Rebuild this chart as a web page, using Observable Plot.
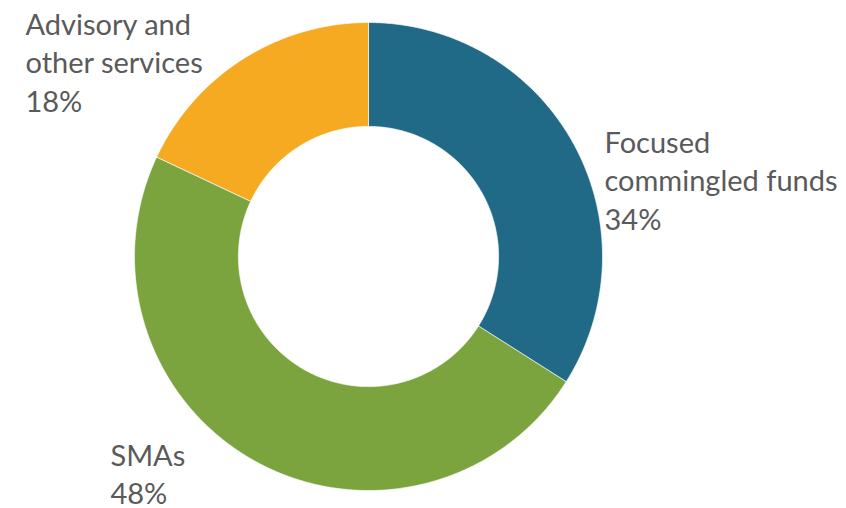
<!DOCTYPE html>
<html>
<head>
<meta charset="utf-8">
<script src="https://cdn.jsdelivr.net/npm/d3@7"></script>
<script src="https://cdn.jsdelivr.net/npm/@observablehq/plot@0.6"></script>
<style>
  html, body { margin: 0; padding: 0; background: #fff; }
</style>
</head>
<body>
<div id="chart"></div>
<script>
// Data
const categories = ["Focused commingled funds", "SMAs", "Advisory and other services"];
const shares = [34, 48, 18];
const labelTexts = ["Focused\ncommingled funds\n34%", "SMAs\n48%", "Advisory and\nother services\n18%"];
const colors = ["#206A87", "#7BA43E", "#F6AA21"];
// label anchor positions in chart units (radius = 1)
const labelX = [1.0085, -1.103, -1.466];
const labelY = [0.56, -0.778, 1.064];

const innerRatio = 0.556;

// Build donut slice polygons from the values
const pie = d3.pie().sort(null).value(d => d)(shares);
const points = [];
pie.forEach((p, i) => {
  const a0 = p.startAngle, a1 = p.endAngle;
  const n = Math.max(2, Math.ceil((a1 - a0) / (Math.PI / 360)));
  for (let k = 0; k <= n; k++) {
    const a = a0 + (a1 - a0) * k / n;
    points.push({name: categories[i], x: Math.sin(a), y: Math.cos(a)});
  }
  for (let k = n; k >= 0; k--) {
    const a = a0 + (a1 - a0) * k / n;
    points.push({name: categories[i], x: innerRatio * Math.sin(a), y: innerRatio * Math.cos(a)});
  }
});

const labels = categories.map((c, i) => ({name: c, text: labelTexts[i], x: labelX[i], y: labelY[i]}));

const chart = Plot.plot({
  width: 846,
  height: 508,
  marginLeft: 134,
  marginRight: 244,
  marginTop: 22,
  marginBottom: 18,
  x: {domain: [-1, 1], axis: null},
  y: {domain: [-1, 1], axis: null},
  color: {domain: categories, range: colors},
  style: {background: "#fff"},
  marks: [
    Plot.line(points, {
      x: "x", y: "y", z: "name", fill: "name",
      stroke: "#ffffff", strokeWidth: 0.8, strokeOpacity: 0.8,
      curve: "linear-closed"
    }),
    Plot.text(labels, {
      x: "x", y: "y", text: "text",
      textAnchor: "start", lineAnchor: "top",
      lineHeight: 1.328,
      fontSize: 29,
      fontWeight: 400,
      fontFamily: "Lato, 'Open Sans', sans-serif",
      fill: "#5a5a5a"
    })
  ]
});
document.getElementById("chart").appendChild(chart);
</script>
</body>
</html>
